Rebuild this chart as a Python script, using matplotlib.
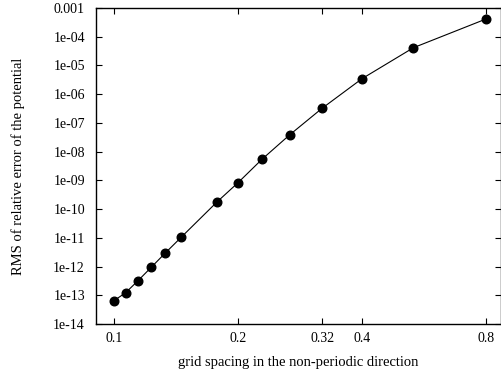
import matplotlib
matplotlib.use("Agg")
import matplotlib.pyplot as plt
from matplotlib.ticker import FixedLocator, FixedFormatter, NullLocator

# grid spacing h and RMS relative error of the potential
spacing = [0.1, 0.1067, 0.1143, 0.1231, 0.1333, 0.1455, 0.1778, 0.2,
           0.2286, 0.2667, 0.32, 0.4, 0.5333, 0.8]
rms_err = [6.5e-14, 1.23e-13, 3.2e-13, 9.4e-13, 3.0e-12, 1.04e-11, 1.77e-10,
           8.3e-10, 5.4e-9, 3.8e-8, 3.23e-7, 3.46e-6, 4.15e-5, 4.14e-4]

x_ticks = [0.1, 0.2, 0.32, 0.4, 0.8]
x_labels = ["0.1", "0.2", "0.32", "0.4", "0.8"]
y_ticks = [10.0 ** e for e in range(-14, -2)]
y_labels = ["1e-%02d" % -e for e in range(-14, -3)] + ["0.001"]

plt.rcParams["font.family"] = ["Liberation Serif", "DejaVu Serif"]

fig = plt.figure(figsize=(5.02, 3.73), dpi=100)
ax = fig.add_axes([96 / 502, 1 - 324 / 373, 405 / 502, 316 / 373])

ax.plot(spacing, rms_err, color="black", lw=0.8, marker="o", ms=6.2,
        markerfacecolor="black", markeredgecolor="black")

ax.set_xscale("log")
ax.set_yscale("log")
ax.set_xlim(0.0904, 0.870)
ax.set_ylim(1e-14, 1e-3)

ax.xaxis.set_major_locator(FixedLocator(x_ticks))
ax.xaxis.set_major_formatter(FixedFormatter(x_labels))
ax.xaxis.set_minor_locator(NullLocator())
ax.yaxis.set_major_locator(FixedLocator(y_ticks))
ax.yaxis.set_major_formatter(FixedFormatter(y_labels))
ax.yaxis.set_minor_locator(NullLocator())

ax.tick_params(direction="in", length=4.5, width=0.8, top=True, right=True,
               labelsize=10)
ax.tick_params(axis="y", pad=8)
ax.tick_params(axis="x", pad=6)
for s in ax.spines.values():
    s.set_linewidth(1.0)

ax.set_xlabel("grid spacing in the non-periodic direction", fontsize=10.5, labelpad=8)
ax.set_ylabel("RMS of relative error of the potential", fontsize=10.5, labelpad=20)

fig.savefig("out.png", dpi=100)
